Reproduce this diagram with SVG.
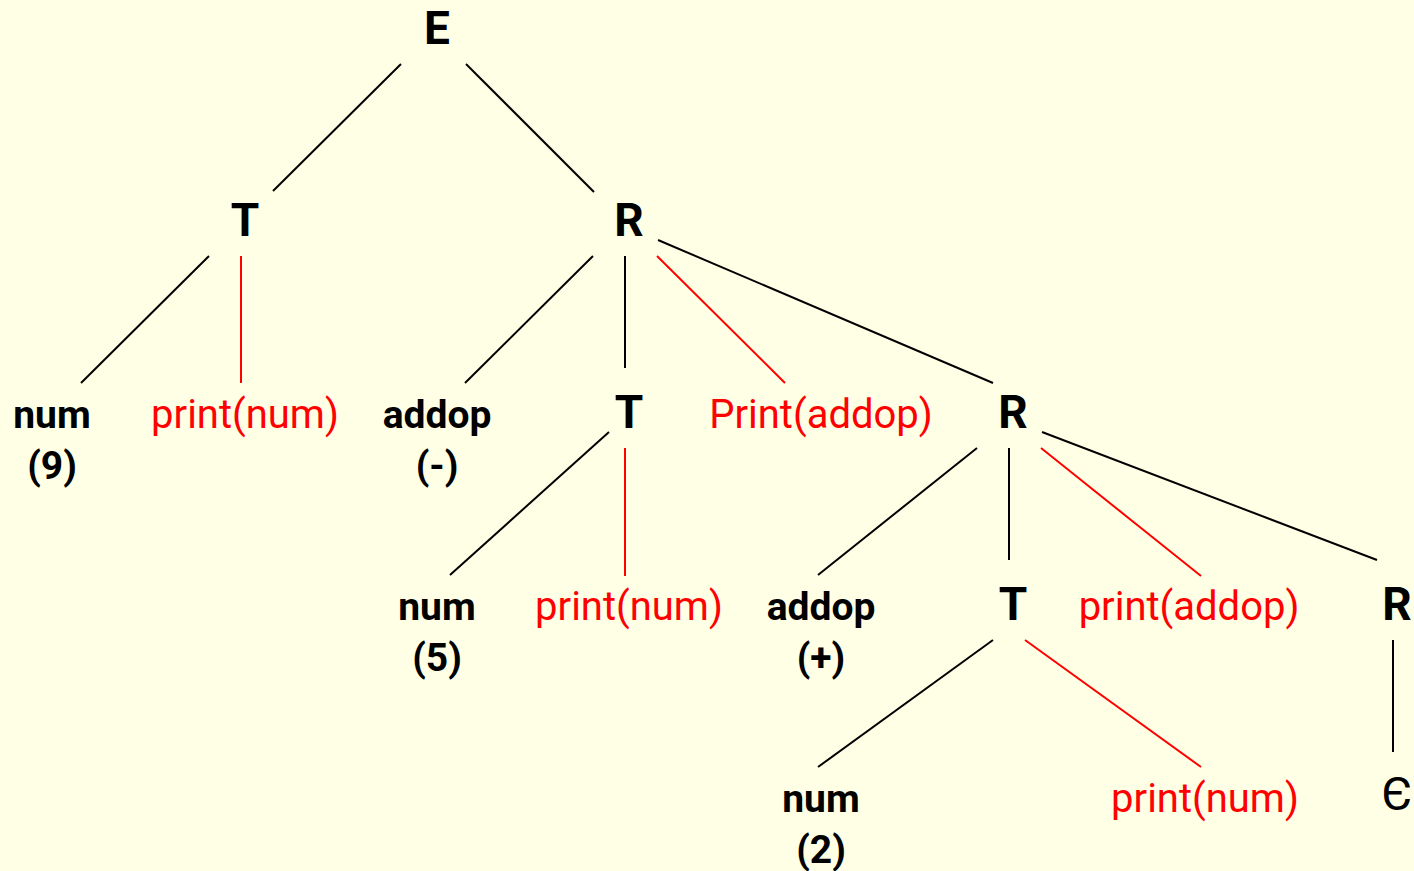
<svg xmlns="http://www.w3.org/2000/svg" width="1414" height="871" viewBox="0 0 1414 871">
  <style>
    .bg { fill: #FFFFE6; }
    .sym { font-family: Roboto, "Liberation Sans", sans-serif; font-weight: bold; font-size: 46px; fill: #000; text-anchor: middle; }
    .term { font-family: Roboto, "Liberation Sans", sans-serif; font-weight: bold; font-size: 39px; fill: #000; text-anchor: middle; }
    .act { font-family: Roboto, "Liberation Sans", sans-serif; font-size: 40px; fill: #FF0000; text-anchor: middle; }
    .eps { font-family: Roboto, "DejaVu Sans", sans-serif; font-size: 47px; fill: #000; text-anchor: middle; }
    .edge { stroke: #000; stroke-width: 2; fill: none; }
    .edge.red { stroke: #FF0000; }
  </style>
  <rect class="bg" x="0" y="0" width="1414" height="871"/>

  <!-- parse tree edges -->
  <g id="edges">
    <line class="edge" x1="401" y1="64" x2="273" y2="191"/>
    <line class="edge" x1="466" y1="64" x2="594" y2="192"/>

    <line class="edge" x1="209" y1="256" x2="81" y2="383"/>
    <line class="edge red" x1="241" y1="256" x2="241" y2="383"/>

    <line class="edge" x1="593" y1="256" x2="465" y2="383"/>
    <line class="edge" x1="625" y1="256" x2="625" y2="368"/>
    <line class="edge red" x1="657" y1="256" x2="785" y2="383"/>
    <line class="edge" x1="658" y1="240" x2="993" y2="383"/>

    <line class="edge" x1="609" y1="432" x2="450" y2="575"/>
    <line class="edge red" x1="625" y1="448" x2="625" y2="576"/>

    <line class="edge" x1="977" y1="448" x2="818" y2="575"/>
    <line class="edge" x1="1009" y1="448" x2="1009" y2="560"/>
    <line class="edge red" x1="1041" y1="448" x2="1201" y2="576"/>
    <line class="edge" x1="1042" y1="432" x2="1377" y2="560"/>

    <line class="edge" x1="993" y1="640" x2="818" y2="767"/>
    <line class="edge red" x1="1025" y1="640" x2="1201" y2="767"/>

    <line class="edge" x1="1393" y1="640" x2="1393" y2="752"/>
  </g>

  <!-- level 0 -->
  <g id="E"><text class="sym" x="437" y="44">E</text></g>

  <!-- level 1 -->
  <g id="T1"><text class="sym" x="245" y="236">T</text></g>
  <g id="R1"><text class="sym" x="629" y="236">R</text></g>

  <!-- level 2 -->
  <g id="num9">
    <text class="term" x="52" y="428">num</text>
    <text class="term" x="52" y="479">(9)</text>
  </g>
  <g id="print1"><text class="act" x="245" y="428">print(num)</text></g>
  <g id="addopMinus">
    <text class="term" x="437" y="428">addop</text>
    <text class="term" x="437" y="479">(-)</text>
  </g>
  <g id="T2"><text class="sym" x="629" y="428">T</text></g>
  <g id="printAddop1"><text class="act" x="821" y="428">Print(addop)</text></g>
  <g id="R2"><text class="sym" x="1013" y="428">R</text></g>

  <!-- level 3 -->
  <g id="num5">
    <text class="term" x="437" y="620">num</text>
    <text class="term" x="437" y="671">(5)</text>
  </g>
  <g id="print2"><text class="act" x="629" y="620">print(num)</text></g>
  <g id="addopPlus">
    <text class="term" x="821" y="620">addop</text>
    <text class="term" x="821" y="671">(+)</text>
  </g>
  <g id="T3"><text class="sym" x="1013" y="620">T</text></g>
  <g id="printAddop2"><text class="act" x="1189" y="620">print(addop)</text></g>
  <g id="R3"><text class="sym" x="1397" y="620">R</text></g>

  <!-- level 4 -->
  <g id="num2">
    <text class="term" x="821" y="812">num</text>
    <text class="term" x="821" y="863">(2)</text>
  </g>
  <g id="print3"><text class="act" x="1205" y="812">print(num)</text></g>
  <g id="epsilon"><text class="eps" x="1397" y="810">Є</text></g>
</svg>
